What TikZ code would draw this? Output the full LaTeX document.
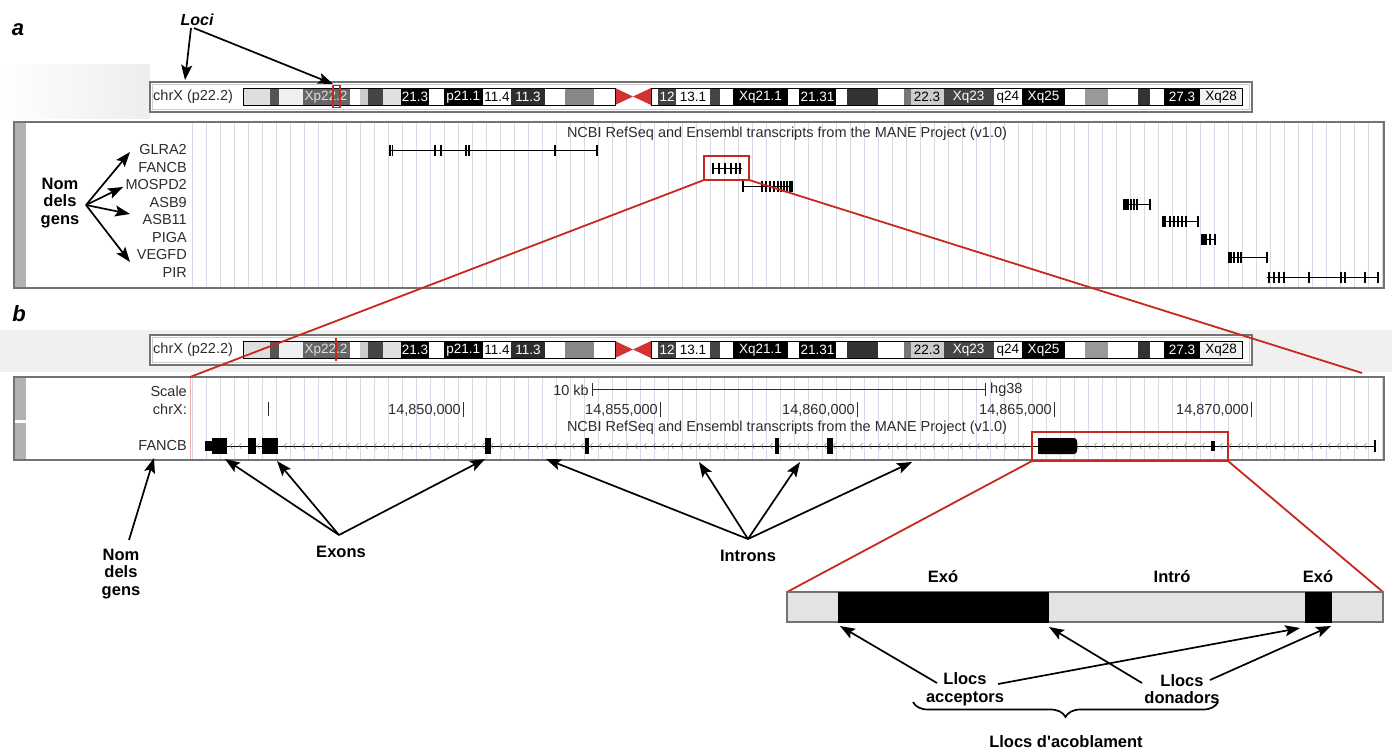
\documentclass[tikz,border=0pt]{standalone}
\usepackage{fontspec}
\setmainfont{Liberation Sans}
\usetikzlibrary{arrows.meta,decorations.pathreplacing,calc}
\definecolor{ucred}{RGB}{200,40,30}
\definecolor{gridc}{RGB}{214,217,230}
\definecolor{cen}{RGB}{210,50,50}
\definecolor{txt}{RGB}{45,45,45}
\tikzset{
  sm/.style={font=\fontsize{14.5}{16}\selectfont, inner sep=0pt, text=txt},
  bd/.style={font=\fontsize{13.5}{15}\selectfont, inner sep=0pt},
  gl/.style={sm, anchor=east},
  bl/.style={font=\fontsize{16.5}{17.5}\selectfont\bfseries, align=center, inner sep=0pt},
  arr/.style={-{Stealth[length=15pt,width=11pt,inset=3pt]}, line width=1.7pt},
  redl/.style={draw=ucred, line width=1.8pt},
  gene/.style={line width=0.9pt},
  ex/.style={line width=1.7pt},
}
\newcommand\myideo[2]{%
\begin{scope}[shift={(0,#1)}]
 \draw[black!55, line width=1.4pt, fill=white] (150,82) rectangle (1252,112);
 \draw[black!20, line width=0.8pt] (152.5,84.5) rectangle (1249.5,109.5);
 \node[sm, anchor=west] (chr#1) at (153,97) {chrX (p22.2)};
 \foreach \a/\b/\c in {243.6/270/black!13, 270/279/black!67, 279/302.5/black!6, 302.5/350/black!60, 350/360/white, 360/368/black!20, 368/383/black!73, 383/401/black!12, 401/429/black, 429/443.6/white, 443.6/483/black, 483/511/white, 511/545/black!82, 545/565/white, 565/593.6/black!47, 593.6/615/white,
 651/658/white, 658/676/black!75, 676/709.6/white, 709.6/720/black!73, 720/733/white, 733/788/black, 788/799/white, 799/836/black, 836/847/white, 847/877.5/black!80, 877.5/904/white, 904/911/black!53, 911/943.6/black!20, 943.6/993.6/black!73, 993.6/1022/white, 1022/1065/black, 1065/1085/white, 1085/1108/black!40, 1108/1138/white, 1138/1150/black!80, 1150/1164/white, 1164/1200/black, 1200/1242/black!6}
   \fill[\c] (\a,88) rectangle (\b,105);
 \foreach \x/\t/\c [count=\k] in {326/Xp22.2/black!12, 415/21.3/white, 463.3/p21.1/white, 497/11.4/black, 528/11.3/white, 667/12/white, 693/13.1/black, 760.5/Xq21.1/white, 817.5/21.31/white, 927/22.3/black, 968.6/Xq23/white, 1007.8/q24/black, 1043.5/Xq25/white, 1182/27.3/white, 1221/Xq28/black}
   \node[bd, text=\c] (band#1n\k) at (\x,97) {\t};
 \fill[cen] (615,88) -- (633,96.5) -- (615,105) -- cycle;
 \fill[cen] (651,88) -- (633,96.5) -- (651,105) -- cycle;
 \draw[black, line width=0.6pt] (243.6,88) rectangle (615,105);
 \draw[black, line width=0.6pt] (651,88) rectangle (1242,105);
 #2
\end{scope}}
\newcommand\gn[4]{%
 \draw[gene] (#2,#1) -- (#3,#1);
 \foreach \t in {#4} \draw[ex] (\t,#1) ++(0,-5.5) -- ++(0,11);}
\begin{document}
\begin{tikzpicture}[x=1pt,y=-1pt]
\useasboundingbox (0,0) rectangle (1392,750);
\fill[white] (0,0) rectangle (1392,750);
% scan shading
\shade[left color=white, right color=black!7] (0,64) rectangle (150,118);
\fill[black!6] (0,330) rectangle (1392,372);

% ---------- a ----------
\node[font=\fontsize{22}{24}\selectfont\bfseries\itshape, inner sep=0pt] (la) at (18,30) {a};
\node[font=\fontsize{16}{18}\selectfont\bfseries\itshape, inner sep=0pt] (loci) at (197,20) {Loci};
\myideo{0}{\draw[ucred, line width=1.7pt] (333,85.5) rectangle (340,107.5);}
\coordinate (lociA) at (185,80);
\coordinate (lociB) at (333,84);
\draw[arr] ($(loci.south)+(-6,2)$) -- (lociA);
\draw[arr] ($(loci.south)+(-3,2)$) -- (lociB);

\draw[black!55, line width=1.2pt, fill=white] (14,122) rectangle (1384,288);
\fill[black!30] (15,123) rectangle (26,287);
\foreach \x in {192,206,...,1382} \draw[gridc, line width=0.8pt] (\x,123) -- (\x,287);
\node[sm] (titA) at (787,134) {NCBI RefSeq and Ensembl transcripts from the MANE Project (v1.0)};
\foreach \n [count=\k] in {GLRA2,FANCB,MOSPD2,ASB9,ASB11,PIGA,VEGFD,PIR}
  \node[gl] (g\k) at (187,{150+17.5*(\k-1)}) {\n};
\gn{150}{390}{597}{390,392.5,435,441,466,469,555,597}
\gn{168}{712}{742}{713,719,725,731,736,740}
\gn{186}{743}{793}{743,762,766,770,774,778,781,784,787,790,792}
\gn{204}{1123}{1150}{1124,1126,1128,1131,1134,1137,1150}
\gn{221}{1162}{1198}{1163,1165,1170,1174,1178,1182,1186,1198}
\gn{239}{1201}{1216}{1202,1204,1206,1210,1215}
\gn{257}{1228}{1267}{1229,1231,1234,1238,1241,1267}
\gn{277}{1267}{1378}{1269,1274,1279,1284,1309,1341,1345,1365,1378}
\draw[redl] (704,156) rectangle (749,180);
\coordinate (rbL) at (704,180);
\coordinate (rbR) at (749,180);

\node[bl] (nomA) at (60,203) {Nom\\dels\\gens};
\coordinate (nA) at (86,205);
\draw[arr] (nA) -- (130,152);
\draw[arr] (nA) -- (123,187);
\draw[arr] (nA) -- (130,214);
\draw[arr] (nA) -- (130,262);

% ---------- b ----------
\node[font=\fontsize{22}{24}\selectfont\bfseries\itshape, inner sep=0pt] (lb) at (19,314) {b};
\myideo{253}{\draw[ucred, line width=1.8pt] (336,85) -- (336,108);}

\draw[black!55, line width=1.2pt, fill=white] (14,377) rectangle (1384,460);
\fill[black!30] (15,378) rectangle (26,420);
\fill[black!30] (15,423) rectangle (26,459);
\foreach \x in {192,206,...,1382} \draw[gridc, line width=0.8pt] (\x,378) -- (\x,459);
\draw[ucred!35, line width=0.8pt] (190,378) -- (190,459);
\node[gl] (scl) at (187,391) {Scale};
\node[gl] (chrl) at (187,409) {chrX:};
\node[gl] (fl) at (187,446) {FANCB};
\node[sm, anchor=east] (kb) at (589,390) {10 kb};
\draw[line width=0.9pt, txt] (592,383) -- (592,396) (592,389) -- (985,389) (985,383) -- (985,396);
\node[sm, anchor=west] (hg) at (990,390) {hg38};
\foreach \x/\t [count=\k] in {463/14{,}850{,}000, 660/14{,}855{,}000, 857/14{,}860{,}000, 1054/14{,}865{,}000, 1251/14{,}870{,}000}{
  \node[sm, anchor=east] (rl\k) at (\x-2,410) {\t};
  \draw[line width=0.9pt, txt] (\x,402) -- (\x,417);}
\draw[line width=0.9pt, txt] (268,402) -- (268,416);
\node[sm] (titB) at (787,428) {NCBI RefSeq and Ensembl transcripts from the MANE Project (v1.0)};
% FANCB gene
\draw[line width=1pt] (205,446) -- (1375,446);
\foreach \x in {230,239,...,1368} \draw[black!50, line width=0.5pt] (\x+2.5,443) -- (\x,446) -- (\x+2.5,449);
\fill (205,441) rectangle (213,451);
\fill (212,438) rectangle (227,454);
\foreach \a/\b in {248/256, 262/278, 485/491, 584.5/588.5, 775/779, 827/833}
  \fill (\a,438) rectangle (\b,454);
\fill[rounded corners=3pt] (1038,438) rectangle (1077,454);
\fill (1038,438) rectangle (1060,454);
\fill (1211,441) rectangle (1215,451);
\draw[line width=1.3pt] (1375,440) -- (1375,452);
\draw[redl] (1032,432) rectangle (1228,461);

% red zoom lines a -> b
\coordinate (bL) at (190,377);
\coordinate (bR) at (1362,373);
\draw[redl] (rbL) -- (bL);
\draw[redl] (rbR) -- (bR);

% zoomed box
\coordinate (zL) at (787,592);
\coordinate (zR) at (1383,592);
\draw[redl] (1032,461) -- (zL);
\draw[redl] (1228,461) -- (zR);
\draw[black!55, line width=1.2pt, fill=black!11] (787,592) rectangle (1383,622);
\fill[black] (838,591.5) rectangle (1049,622.5);
\fill[black] (1305,591.5) rectangle (1332,622.5);
\node[bl] (ex1) at (943,577) {Exó};
\node[bl] (intr) at (1172,577) {Intró};
\node[bl] (ex2) at (1318,577) {Exó};

% labels and arrows below b
\node[bl] (nomB) at (121,574) {Nom\\dels\\gens};
\draw[arr] (129,540) -- (154,458);
\node[bl] (exons) at (341,552) {Exons};
\coordinate (eo) at (339,535);
\draw[arr] (eo) -- (225,459);
\draw[arr] (eo) -- (277,461);
\draw[arr] (eo) -- (485,459);
\node[bl] (introns) at (748,556) {Introns};
\coordinate (io) at (748,539);
\draw[arr] (io) -- (546,459);
\draw[arr] (io) -- (699,462);
\draw[arr] (io) -- (800,462);
\draw[arr] (io) -- (912,462);

\node[bl] (acc) at (965,689) {Llocs\\acceptors};
\node[bl] (don) at (1182,689) {Llocs\\donadors};
\draw[arr] (937,683) -- (840,626);
\draw[arr] (998,684) -- (1300,628);
\draw[arr] (1142,683) -- (1049,627);
\draw[arr] (1210,680) -- (1331,626);
\draw[decorate, decoration={brace, mirror, amplitude=15pt}, line width=1.7pt] (913,702) -- (1218,702);
\node[bl] (acob) at (1066,742) {Llocs d\textquotesingle acoblament};
\end{tikzpicture}
\end{document}
